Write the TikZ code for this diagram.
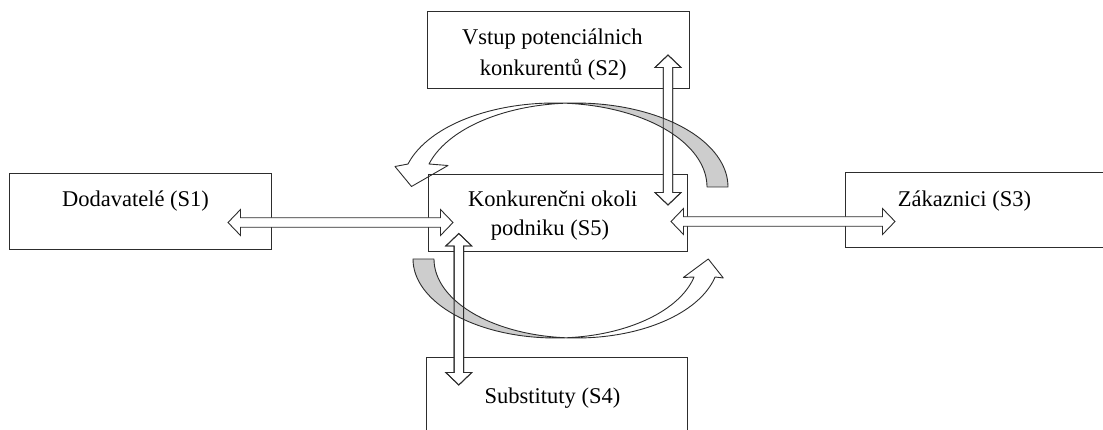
\documentclass[tikz,border=0pt]{standalone}
\usepackage{fontspec}
\setmainfont{Liberation Serif}
\usetikzlibrary{calc}
\definecolor{edge}{RGB}{45,45,45}
\definecolor{ribbonback}{RGB}{205,205,205}
\tikzset{
  box/.style={draw=edge, line width=1pt, inner sep=0pt},
  lbl/.style={inner sep=0pt, anchor=base, font=\fontsize{22.5}{30}\selectfont},
  blockline/.style={draw=edge, line width=0.9pt, line join=miter},
  ribbon/.style={draw=edge, line width=0.9pt, line join=round},
  % hollow double-headed block arrow between two points
  dblarrow/.style={to path={
    let \p1=(\tikztostart), \p2=(\tikztotarget),
        \n1={atan2(\y2-\y1,\x2-\x1)},
        \n2={veclen(\x2-\x1,\y2-\y1)-12.5}
    in (\p1)
    -- ($(\p1)+(\n1:12.5pt)+(\n1+90:13pt)$)
    -- ($(\p1)+(\n1:12.5pt)+(\n1+90:4.75pt)$)
    -- ($(\p1)+(\n1:\n2*1pt)+(\n1+90:4.75pt)$)
    -- ($(\p1)+(\n1:\n2*1pt)+(\n1+90:13pt)$)
    -- (\p2)
    -- ($(\p1)+(\n1:\n2*1pt)+(\n1-90:13pt)$)
    -- ($(\p1)+(\n1:\n2*1pt)+(\n1-90:4.75pt)$)
    -- ($(\p1)+(\n1:12.5pt)+(\n1-90:4.75pt)$)
    -- ($(\p1)+(\n1:12.5pt)+(\n1-90:13pt)$)
    -- cycle}}
}
\begin{document}
\begin{tikzpicture}[x=1pt, y=-1pt]
\useasboundingbox (0,0) rectangle (1103,430);
\clip (0,0) rectangle (1103,430);

% boxes
\node[box, minimum width=262pt, minimum height=76pt] (s1) at (140,212) {};
\node[box, minimum width=262pt, minimum height=77pt] (s2) at (558,50.5) {};
\node[box, minimum width=259pt, minimum height=77pt] (s5) at (557.5,213.5) {};
\node[box, minimum width=262pt, minimum height=75pt] (s3) at (976,210.5) {};
\node[box, minimum width=261pt, minimum height=77pt] (s4) at (556.5,395.5) {};

% arrow end points
\coordinate (a1) at (228,222.5);
\coordinate (a2) at (453,222.5);
\coordinate (b1) at (671,221.5);
\coordinate (b2) at (895,221.5);
\coordinate (c1) at (668,55);
\coordinate (c2) at (668,205);
\coordinate (d1) at (458.8,233.5);
\coordinate (d2) at (458.8,385);

% straight double arrows
\draw[blockline, fill=white, dblarrow] (a1) to (a2);
\draw[blockline, fill=white, dblarrow] (b1) to (b2);
\draw[blockline, fill=white, dblarrow] (c1) to (c2);
\draw[blockline, fill=white, dblarrow] (d1) to (d2);

% upper curved ribbon arrow: back side shaded
\fill[ribbonback]
  plot[domain=93.95:0, samples=60] ({575.6+152.4*cos(\x)},{187-84*sin(\x)})
  -- plot[domain=0:86.05, samples=60] ({554.6+152.4*cos(\x)},{187-84*sin(\x)})
  -- cycle;
\draw[ribbon] (395,166.5) -- (411.5,186.5) -- (448,165.5)
  -- plot[domain=164.11:0, samples=90] ({575.6+152.4*cos(\x)},{187-84*sin(\x)})
  -- plot[domain=0:164.11, samples=90] ({554.6+152.4*cos(\x)},{187-84*sin(\x)})
  -- cycle;

% lower curved ribbon arrow: back side shaded
\fill[ribbonback]
  plot[domain=94.23:180, samples=60] ({576.4+142.4*cos(\x)},{259+79*sin(\x)})
  -- plot[domain=180:85.77, samples=60] ({555.4+142.4*cos(\x)},{259+79*sin(\x)})
  -- cycle;
\draw[ribbon] (683.3,277.5) -- (708.3,259) -- (723.3,278)
  -- plot[domain=13.17:180, samples=90] ({576.4+142.4*cos(\x)},{259+79*sin(\x)})
  -- plot[domain=180:13.17, samples=90] ({555.4+142.4*cos(\x)},{259+79*sin(\x)})
  -- cycle;

% vertical arrows stay visible over the ribbons
\draw[blockline, dblarrow] (c1) to (c2);
\draw[blockline, dblarrow] (d1) to (d2);

% labels
\node[lbl] (t1) at (135.5,206.7) {Dodavatelé (S1)};
\node[lbl] (t2a) at (552.3,44.5) {Vstup potenciálnich};
\node[lbl] (t2b) at (553.3,75.5) {konkurentů (S2)};
\node[lbl] (t5a) at (552.7,206.7) {Konkurenčni okoli};
\node[lbl] (t5b) at (550,235.5) {podniku (S5)};
\node[lbl] (t3) at (964.5,206.5) {Zákaznici (S3)};
\node[lbl] (t4) at (552.5,403.5) {Substituty (S4)};
\end{tikzpicture}
\end{document}
